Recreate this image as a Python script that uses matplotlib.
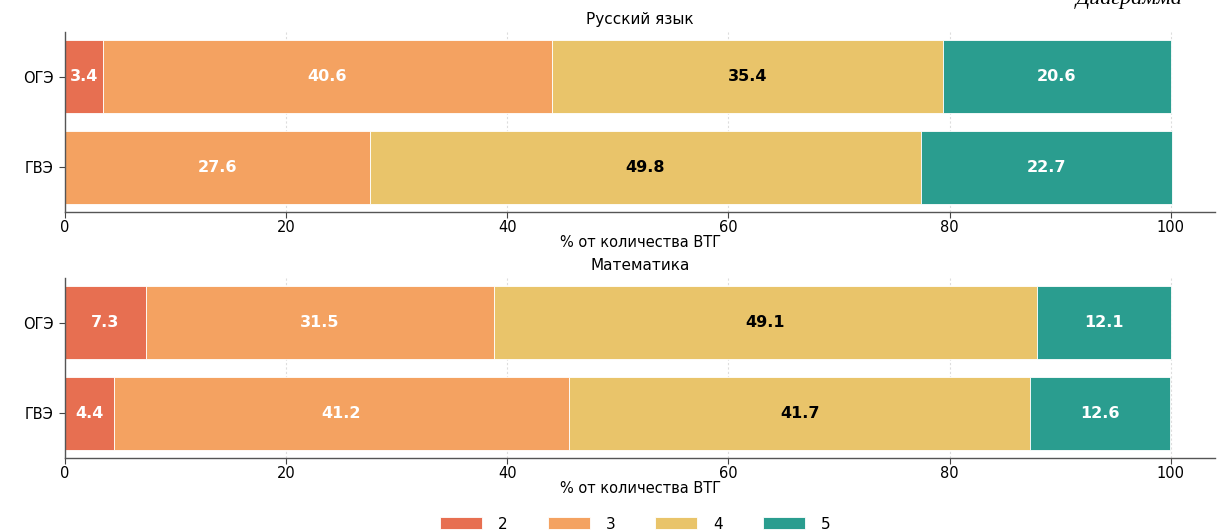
import matplotlib
matplotlib.use("Agg")
import matplotlib.pyplot as plt
import numpy as np

plt.rcParams['font.family'] = ['DejaVu Sans']

subjects = ["Русский язык", "Математика"]
exams = ["ОГЭ", "ГВЭ"]
grades = ["2", "3", "4", "5"]
colors = ["#E76F51", "#F4A261", "#E9C46A", "#2A9D8F"]
label_colors = ["white", "white", "black", "white"]

# values[subject][exam] = [2, 3, 4, 5]
russian_oge = [3.4, 40.6, 35.4, 20.6]
russian_gve = [0.0, 27.6, 49.8, 22.7]
math_oge = [7.3, 31.5, 49.1, 12.1]
math_gve = [4.4, 41.2, 41.7, 12.6]
data = [[russian_oge, russian_gve], [math_oge, math_gve]]

xlabel = "% от количества ВТГ"

fig = plt.figure(figsize=(12.17, 5.31), dpi=100)
ax_rects = [[0.0534, 0.6008, 0.945, 0.339], [0.0534, 0.1375, 0.945, 0.339]]

for si, subj in enumerate(subjects):
    ax = fig.add_axes(ax_rects[si])
    vals = np.array(data[si])
    y = np.arange(len(exams))
    left = np.zeros(len(exams))
    for gi, g in enumerate(grades):
        w = vals[:, gi]
        ax.barh(y, w, left=left, height=0.8, color=colors[gi],
                edgecolor="white", linewidth=0.6,
                label=g if si == 0 else None, zorder=2)
        for yi, (wi, li) in enumerate(zip(w, left)):
            if wi > 0:
                ax.text(li + wi / 2, y[yi], f"{wi:.1f}", ha="center", va="center",
                        color=label_colors[gi], fontsize=11.5, fontweight="bold", zorder=3)
        left = left + w
    ax.set_yticks(y)
    ax.set_yticklabels(exams, fontsize=10.5)
    ax.invert_yaxis()
    ax.set_xlim(0, 104)
    ax.set_xticks([0, 20, 40, 60, 80, 100])
    ax.tick_params(axis='x', labelsize=10.5, length=4, pad=1.5, color="#444444")
    ax.tick_params(axis='y', length=4, pad=4, color="#444444")
    ax.set_xlabel(xlabel, fontsize=10.5, labelpad=0)
    ax.set_title(subj, fontsize=11, pad=6)
    ax.grid(axis='x', linestyle=(0, (2, 2)), color="#dddddd", linewidth=0.8, zorder=0)
    ax.set_axisbelow(True)
    for s in ["top", "right"]:
        ax.spines[s].set_visible(False)
    for s in ["left", "bottom"]:
        ax.spines[s].set_color("#555555")
        ax.spines[s].set_linewidth(1.0)
    if si == 0:
        handles, labels = ax.get_legend_handles_labels()

fig.legend(handles, labels, loc="center", bbox_to_anchor=(0.522, 0.013), ncol=4,
           frameon=False, fontsize=11, handlelength=2.75, handleheight=0.8,
           columnspacing=2.6, handletextpad=1.05)

fig.text(0.884, 0.9925, "Диаграмма", fontsize=16, style="italic",
         family=["Liberation Serif", "DejaVu Serif"], va="baseline", ha="left")

fig.savefig("out.png", dpi=100)
